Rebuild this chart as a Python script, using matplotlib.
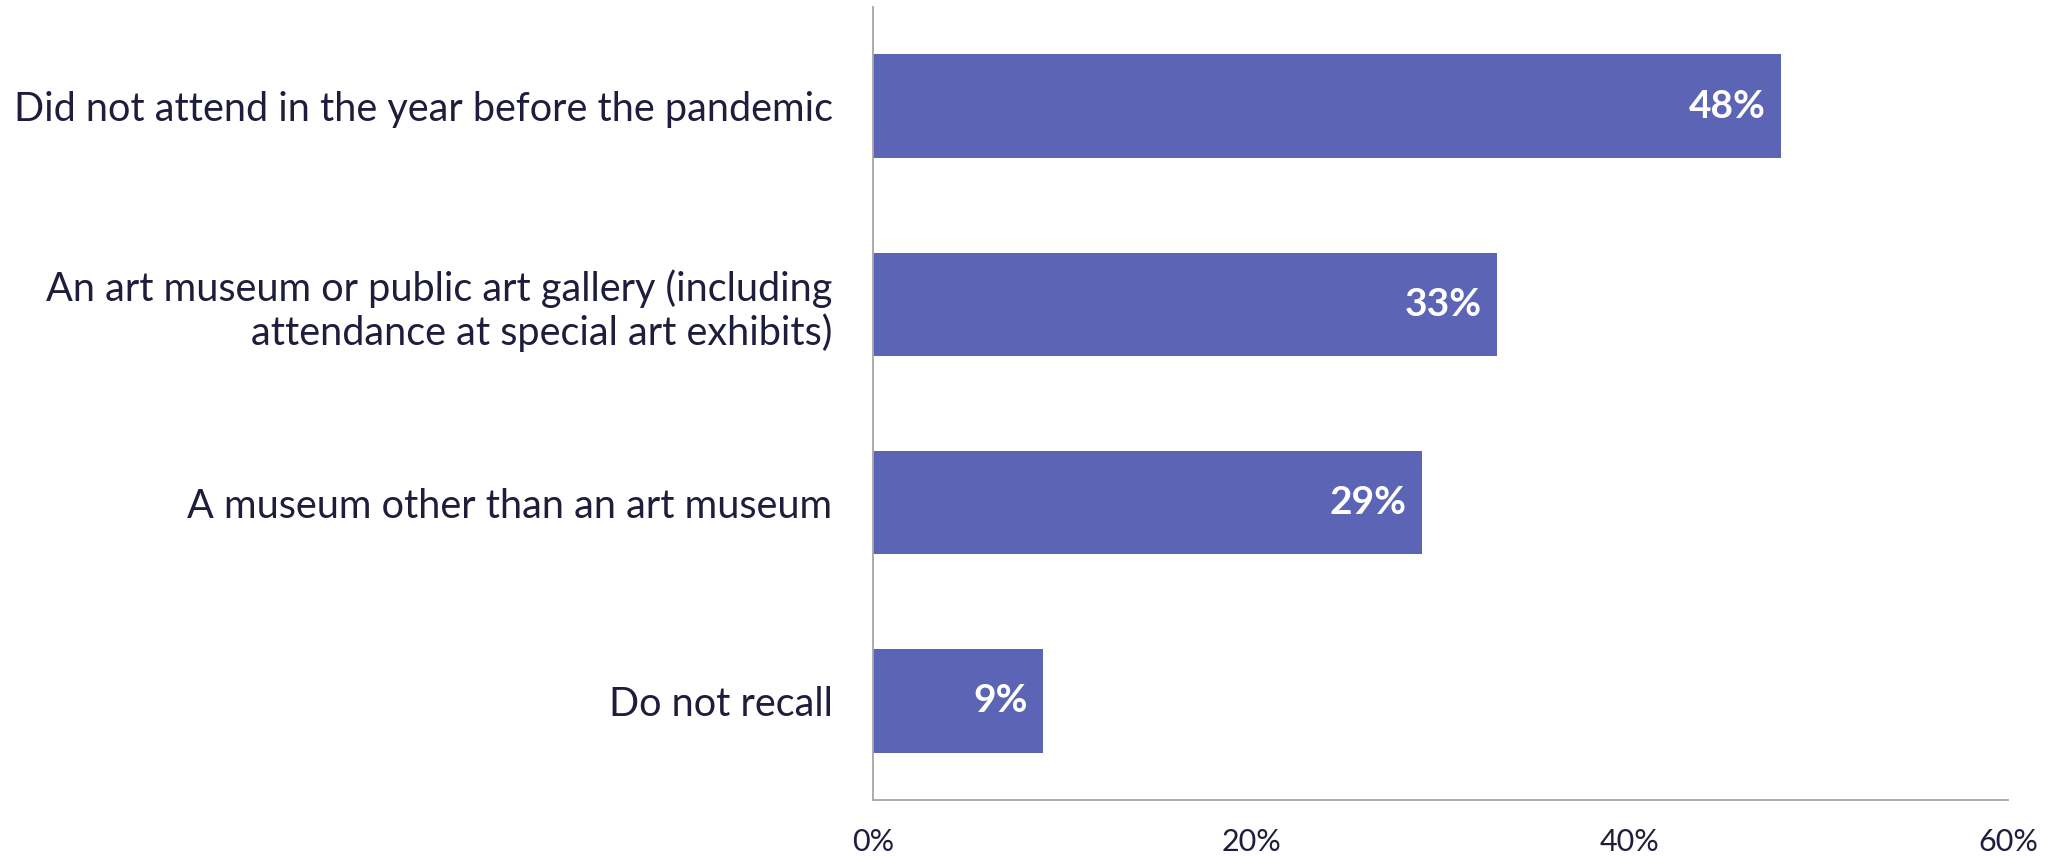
import matplotlib
matplotlib.use("Agg")
import matplotlib.pyplot as plt
from matplotlib.ticker import PercentFormatter

plt.rcParams['font.family'] = ['Lato', 'DejaVu Sans']

categories = [
    "Did not attend in the year before the pandemic",
    "An art museum or public art gallery (including\nattendance at special art exhibits)",
    "A museum other than an art museum",
    "Do not recall",
]
values = [48, 33, 29, 9]
x_ticks = [0, 20, 40, 60]

bar_color = "#5C65B5"
text_color = "#1E1E3C"
axis_color = "#A6A6A6"

fig = plt.figure(figsize=(20.49, 8.56), dpi=100)
ax = fig.add_axes([0.426, 0.0654, 0.554, 0.9264])

pos = list(range(len(categories)))
bars = ax.barh(pos, values, height=0.523, color=bar_color)
ax.set_ylim(len(categories) - 0.5, -0.5)
ax.set_xlim(0, 60)

ax.set_yticks(pos)
ax.set_yticklabels(categories, fontsize=28.5, color=text_color, linespacing=1.17)
ax.set_xticks(x_ticks)
ax.xaxis.set_major_formatter(PercentFormatter(decimals=0))
ax.tick_params(axis='x', length=0, pad=20, labelsize=22, labelcolor=text_color)
ax.tick_params(axis='y', length=0, pad=29)

for side in ['top', 'right']:
    ax.spines[side].set_visible(False)
for side in ['left', 'bottom']:
    ax.spines[side].set_color(axis_color)
    ax.spines[side].set_linewidth(1.3)

for b, v in zip(bars, values):
    ax.annotate(f"{v}%", xy=(b.get_width(), b.get_y() + b.get_height() / 2),
                xytext=(-11, 0), textcoords='offset points',
                ha='right', va='center', fontsize=28, fontweight='bold', color='white')

fig.savefig("out.png", dpi=100)
